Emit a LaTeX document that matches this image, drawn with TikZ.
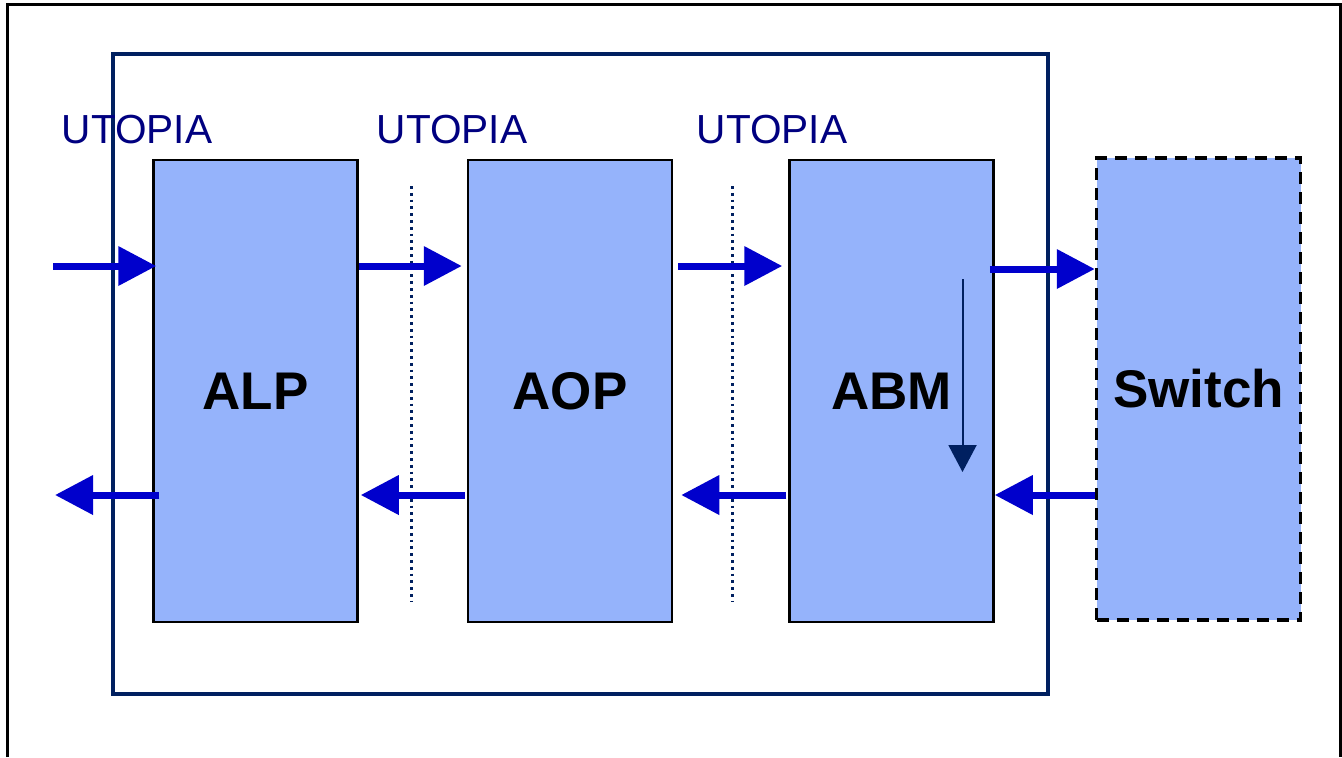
\documentclass[tikz,border=0pt]{standalone}
\usepackage{fontspec}
\setmainfont{Liberation Sans}
\usetikzlibrary{positioning,arrows.meta}

\definecolor{blockfill}{RGB}{149,179,251}
\definecolor{flowblue}{RGB}{0,0,204}
\definecolor{framenavy}{RGB}{0,32,96}
\definecolor{labelnavy}{RGB}{0,0,128}

\begin{document}
\begin{tikzpicture}[x=0.5pt, y=-0.5pt, node distance=55pt,
    block/.style={rectangle, draw, line width=1.25pt, fill=blockfill, minimum width=102pt, minimum height=231pt, text centered, font=\bfseries\fontsize{26.5}{30}\selectfont},
    flow/.style={-{Triangle[length=19pt, width=19pt]}, line width=3.5pt, draw=flowblue},
    iface/.style={text=labelnavy, font=\fontsize{20.3}{24}\selectfont},
    cut/.style={draw=framenavy, line width=1.5pt, dash pattern=on 1.4pt off 2pt}]

\useasboundingbox (0,0) rectangle (1342,757);

% Page frame and device frame
\draw[line width=1.5pt] (7,757) -- (7,4) -- (1340,4) -- (1340,757);
\draw[draw=framenavy, line width=2pt] (113,54) rectangle (1048,694);

% Blocks
\node[block] (alp) at (255.5,391) {ALP};
\node[block, right=54pt of alp] (aop) {AOP};
\node[block, right=57.5pt of aop] (abm) {ABM};
\node[block, right=50pt of abm, yshift=1pt, dash pattern=on 6pt off 4pt, line width=1.8pt] (switch) {Switch};

% Interface labels
\node[iface] (utopia1) at (137,130) {UTOPIA};
\node[iface] (utopia2) at (452,130) {UTOPIA};
\node[iface] (utopia3) at (772,130) {UTOPIA};

% Interface cut lines
\coordinate (cutA) at (411,186);
\coordinate (cutB) at (732,186);
\draw[cut] (cutA) -- ++(0,415);
\draw[cut] (cutB) -- ++(0,415);

% Ingress flow
\coordinate (in) at (53,266);
\draw[flow] (in) -- ([yshift=62.5pt, xshift=2pt]alp.west);
\draw[flow] ([yshift=62.5pt]alp.east) -- ([yshift=62.5pt, xshift=-2.5pt]aop.west);
\draw[flow] ([yshift=62.5pt, xshift=2.5pt]aop.east) -- ([yshift=62.5pt, xshift=-3pt]abm.west);
\draw[flow] ([yshift=61pt, xshift=-2.5pt]abm.east) -- ([yshift=60pt]switch.west);

% Egress flow
\coordinate (out) at (55,495);
\draw[flow] ([yshift=-53pt]switch.west) -- ([yshift=-52pt]abm.east);
\draw[flow] ([yshift=-52pt, xshift=-1pt]abm.west) -- ([yshift=-52pt, xshift=4pt]aop.east);
\draw[flow] ([yshift=-52pt, xshift=-1pt]aop.west) -- ([yshift=-52pt, xshift=1pt]alp.east);
\draw[flow] ([yshift=-52pt, xshift=3.5pt]alp.west) -- (out);

% Turnaround inside ABM
\draw[-{Triangle[length=13.5pt, width=14pt]}, draw=framenavy, line width=1pt] ([xshift=35.5pt, yshift=56pt]abm.center) -- ([xshift=35.5pt, yshift=-40.5pt]abm.center);

\end{tikzpicture}
\end{document}
